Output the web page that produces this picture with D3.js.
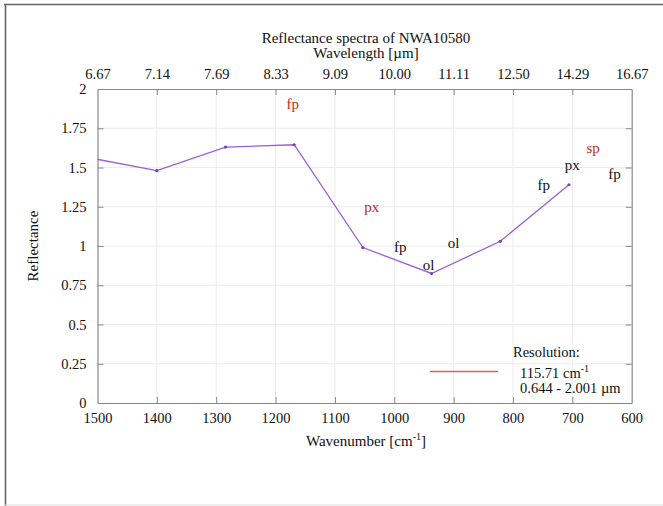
<!DOCTYPE html>
<html>
<head>
<meta charset="utf-8">
<script src="https://cdn.jsdelivr.net/npm/d3@7"></script>
<style>
  html, body { margin: 0; padding: 0; background: #fff; }
  svg { display: block; }
  text { font-family: "Liberation Serif", "DejaVu Serif", serif; fill: #111; }
</style>
</head>
<body>
<svg id="chart" width="663" height="506"></svg>
<script>
// Spectrum samples (wavenumber in cm^-1, reflectance)
const wavenumbers = [1515.7, 1400, 1284.3, 1168.6, 1052.9, 937.2, 821.5, 705.7];
const reflectance = [1.563, 1.48, 1.63, 1.645, 0.99, 0.825, 1.03, 1.39];

// Axis ticks
const xTicks = [1500, 1400, 1300, 1200, 1100, 1000, 900, 800, 700, 600];
const wavelengthLabels = ["6.67", "7.14", "7.69", "8.33", "9.09", "10.00", "11.11", "12.50", "14.29", "16.67"];
const yTicks = [0, 0.25, 0.5, 0.75, 1, 1.25, 1.5, 1.75, 2];

// Mineral band annotations: [label, wavenumber, reflectance, colour group]
const bandLabels = ["fp", "px", "fp", "ol", "ol", "fp", "px", "sp", "fp"];
const bandWavenumbers = [1171, 1038, 990, 942, 900, 748, 700, 665, 629];
const bandReflectance = [1.905, 1.25, 0.995, 0.875, 1.015, 1.39, 1.515, 1.625, 1.455];
const bandRed = [true, true, false, false, false, false, false, true, false];

const titleText = "Reflectance spectra of NWA10580";
const resolutionLines = ["115.71 cm", "0.644 - 2.001 \u00b5m"];

const svg = d3.select("#chart");
const plot = { left: 97.5, right: 631.7, top: 89, bottom: 403 };

const x = d3.scaleLinear().domain([1500, 600]).range([plot.left, plot.right]);
const y = d3.scaleLinear().domain([0, 2]).range([plot.bottom, plot.top]);

// Outer frame (left, top, bottom edges)
svg.append("line").attr("x1", 5.5).attr("x2", 5.5).attr("y1", 4).attr("y2", 506)
  .attr("stroke", "#666").attr("stroke-width", 1.6);
svg.append("line").attr("x1", 4).attr("x2", 663).attr("y1", 4.5).attr("y2", 4.5)
  .attr("stroke", "#666").attr("stroke-width", 1.6);
svg.append("line").attr("x1", 5).attr("x2", 663).attr("y1", 505).attr("y2", 505)
  .attr("stroke", "#ddd").attr("stroke-width", 1);

// Grid
const grid = svg.append("g").attr("stroke", "#ececec").attr("stroke-width", 1);
xTicks.slice(1, -1).forEach(t => {
  grid.append("line").attr("x1", x(t)).attr("x2", x(t)).attr("y1", plot.top).attr("y2", plot.bottom);
});
yTicks.slice(1, -1).forEach(t => {
  grid.append("line").attr("x1", plot.left).attr("x2", plot.right).attr("y1", y(t)).attr("y2", y(t));
});

// Axes with inward ticks
const tickLen = 6;
const axisColor = "#888";
const bottomAxis = svg.append("g").attr("transform", `translate(0,${plot.bottom})`)
  .call(d3.axisBottom(x).tickValues(xTicks).tickSizeInner(-tickLen).tickSizeOuter(0).tickPadding(10)
    .tickFormat(d => String(d)));
const topAxis = svg.append("g").attr("transform", `translate(0,${plot.top})`)
  .call(d3.axisTop(x).tickValues(xTicks).tickSizeInner(-tickLen).tickSizeOuter(0).tickPadding(10)
    .tickFormat((d, i) => wavelengthLabels[i]));
const leftAxis = svg.append("g").attr("transform", `translate(${plot.left},0)`)
  .call(d3.axisLeft(y).tickValues(yTicks).tickSizeInner(-tickLen).tickSizeOuter(0).tickPadding(10)
    .tickFormat(d => String(d)));
const rightAxis = svg.append("g").attr("transform", `translate(${plot.right},0)`)
  .call(d3.axisRight(y).tickValues(yTicks).tickSizeInner(-tickLen).tickSizeOuter(0).tickFormat(""));

[bottomAxis, topAxis, leftAxis, rightAxis].forEach(g => {
  g.select(".domain").attr("stroke", axisColor).attr("stroke-width", 1.2);
  g.selectAll(".tick line").attr("stroke", axisColor);
  g.selectAll(".tick text").attr("font-size", 14.5)
    .attr("font-family", "'Liberation Serif', serif").attr("fill", "#111");
});
leftAxis.selectAll(".tick text").attr("dx", -1);
topAxis.selectAll(".tick line").filter((d, i) => i === 0 || i === xTicks.length - 1).remove();
bottomAxis.selectAll(".tick line").filter((d, i) => i === 0 || i === xTicks.length - 1).remove();
leftAxis.selectAll(".tick line").filter((d, i) => i === 0 || i === yTicks.length - 1).remove();
rightAxis.selectAll(".tick line").filter((d, i) => i === 0 || i === yTicks.length - 1).remove();

// Titles
svg.append("text").attr("x", 366).attr("y", 43).attr("text-anchor", "middle")
  .attr("font-size", 15).text(titleText);
svg.append("text").attr("x", 366).attr("y", 58).attr("text-anchor", "middle")
  .attr("font-size", 15).text("Wavelength [\u00b5m]");

const xl = svg.append("text").attr("x", 366).attr("y", 446).attr("text-anchor", "middle").attr("font-size", 15);
xl.append("tspan").text("Wavenumber [cm");
xl.append("tspan").attr("dy", -6).attr("font-size", 10).text("-1");
xl.append("tspan").attr("dy", 6).text("]");

svg.append("text").attr("transform", `translate(38,${(plot.top + plot.bottom) / 2}) rotate(-90)`)
  .attr("text-anchor", "middle").attr("font-size", 15).text("Reflectance");

// Spectrum line, clipped to the plot area
svg.append("clipPath").attr("id", "plot-clip").append("rect")
  .attr("x", plot.left).attr("y", plot.top)
  .attr("width", plot.right - plot.left).attr("height", plot.bottom - plot.top);

const points = wavenumbers.map((w, i) => [w, reflectance[i]]);
const lineColor = "#9b5fd3";
const g = svg.append("g").attr("clip-path", "url(#plot-clip)");
g.append("path").datum(points)
  .attr("fill", "none").attr("stroke", lineColor).attr("stroke-width", 1.3)
  .attr("d", d3.line().x(d => x(d[0])).y(d => y(d[1])));
g.selectAll("circle").data(points).join("circle")
  .attr("cx", d => x(d[0])).attr("cy", d => y(d[1])).attr("r", 1.6).attr("fill", "#7a3fb0");

// Band annotations
svg.append("g").selectAll("text").data(bandLabels).join("text")
  .attr("x", (d, i) => x(bandWavenumbers[i]))
  .attr("y", (d, i) => y(bandReflectance[i]))
  .attr("dy", "0.32em")
  .attr("text-anchor", "middle")
  .attr("font-size", 15)
  .style("fill", (d, i) => bandRed[i] ? "#cc1f12" : "#111")
  .text(d => d);

// Resolution key
svg.append("text").attr("x", 513).attr("y", 357).attr("font-size", 14.5).text("Resolution:");
svg.append("line").attr("x1", 430).attr("x2", 498).attr("y1", 371.5).attr("y2", 371.5)
  .attr("stroke", "#e06060").attr("stroke-width", 1.5);
const r1 = svg.append("text").attr("x", 520).attr("y", 378).attr("font-size", 14.5);
r1.append("tspan").text(resolutionLines[0]);
r1.append("tspan").attr("dy", -6).attr("font-size", 10).text("-1");
svg.append("text").attr("x", 520).attr("y", 393).attr("font-size", 14.5).text(resolutionLines[1]);
</script>
</body>
</html>
